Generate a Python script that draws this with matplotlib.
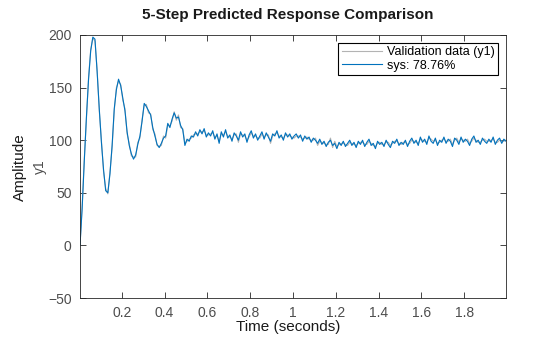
import numpy as np
import matplotlib
matplotlib.use("Agg")
import matplotlib.pyplot as plt

plt.rcParams['font.family'] = ['Liberation Sans', 'DejaVu Sans']

# sample times (Ts = 0.01 s, starting at 0.005 s)
n_samples = 200
t0, Ts = 0.005, 0.01

# sys: 5-step predicted response
sys_y = [
    0, 35, 80, 122, 158, 185, 198, 196, 165, 130,
    98, 72, 52, 50, 68, 95, 130, 148, 158, 152,
    140, 128, 108, 95, 87, 82, 86, 96, 104, 118,
    135, 132, 128, 124, 112, 104, 96, 93, 97, 102,
    104, 116, 112, 120, 126, 121, 122, 114, 110, 95,
    101, 99, 104, 103, 108, 104, 110, 106, 111, 103,
    107, 104, 109, 101, 106, 97, 108, 103, 110, 102,
    105, 99, 107, 104, 100, 108, 103, 106, 98, 105,
    109, 102, 106, 100, 104, 108, 101, 107, 103, 99,
    106, 104, 109, 102, 105, 100, 107, 103, 106, 101,
    104, 106, 102, 105, 99, 104, 101, 103, 98, 102,
    100, 97, 101, 96, 99, 94, 98, 100, 95, 97,
    92, 98, 95, 99, 94, 97, 100, 95, 98, 93,
    99, 96, 100, 94, 98, 101, 95, 97, 92, 99,
    96, 98, 94, 100, 96, 93, 99, 97, 101, 95,
    98, 96, 100, 94, 99, 102, 97, 100, 95, 103,
    98, 101, 96, 104, 99, 97, 102, 95, 100, 98,
    103, 97, 101, 99, 94, 102, 100, 96, 103, 98,
    101, 99, 95, 101, 104, 98, 100, 96, 102, 99,
    97, 101, 98, 103, 96, 100, 102, 97, 101, 99,
]

# validation data (y1)
val_y = [
    0, 37, 82, 120, 160, 186, 197, 194, 167, 128,
    100, 70, 54, 49, 70, 93, 128, 150, 156, 153,
    138, 130, 106, 97, 85, 84, 84, 98, 102, 120,
    133, 134, 126, 125, 110, 106, 95, 94, 95, 104,
    102, 114, 114, 118, 127, 119, 124, 112, 111, 97,
    99, 101, 102, 105, 106, 106, 108, 108, 109, 105,
    105, 106, 107, 103, 104, 99, 106, 105, 108, 104,
    103, 101, 105, 106, 98, 106, 105, 104, 100, 103,
    107, 104, 104, 102, 102, 106, 103, 105, 105, 97,
    104, 106, 107, 104, 103, 102, 105, 105, 104, 103,
    102, 104, 104, 103, 101, 102, 103, 101, 100, 100,
    102, 95, 99, 98, 97, 96, 96, 102, 93, 99,
    94, 96, 97, 97, 96, 95, 98, 97, 96, 95,
    97, 98, 98, 96, 96, 99, 97, 95, 94, 97,
    98, 96, 96, 98, 98, 95, 97, 99, 99, 97,
    96, 98, 98, 96, 97, 100, 99, 98, 97, 101,
    100, 99, 98, 102, 101, 99, 100, 97, 98, 100,
    101, 99, 99, 101, 96, 100, 102, 98, 101, 100,
    99, 101, 97, 99, 102, 100, 98, 98, 100, 101,
    99, 99, 100, 101, 98, 98, 100, 99, 99, 100,
]

x_ticks = [0.2, 0.4, 0.6, 0.8, 1.0, 1.2, 1.4, 1.6, 1.8]
x_ticklabels = ['0.2', '0.4', '0.6', '0.8', '1', '1.2', '1.4', '1.6', '1.8']
y_ticks = [-50, 0, 50, 100, 150, 200]

t = t0 + Ts * np.arange(n_samples)

fig = plt.figure(figsize=(5.6, 3.37), dpi=100)
ax = fig.add_axes([80/560, 1-298/337, (506-80)/560, (298-35)/337])

ax.plot(t, val_y, color='#b3b3b3', lw=0.8, label='Validation data (y1)')
ax.plot(t, sys_y, color='#0072BD', lw=0.8, label='sys: 78.76%')

ax.set_xlim(0.005, 1.995)
ax.set_ylim(-50, 200)
ax.set_xticks(x_ticks)
ax.set_xticklabels(x_ticklabels)
ax.set_yticks(y_ticks)

axc = '#262626'
for s in ax.spines.values():
    s.set_color(axc)
    s.set_linewidth(0.6)
ax.tick_params(direction='in', length=4, width=0.6, color=axc,
               top=True, right=True, labelsize=10, labelcolor='#4d4d4d', pad=6)

leg = ax.legend(loc='upper right', fontsize=9, frameon=True, fancybox=False,
                edgecolor='black', borderpad=0.3, labelspacing=0.1,
                handlelength=3.2, handletextpad=0.4, borderaxespad=0.6)
leg.get_frame().set_linewidth(0.8)
leg.get_frame().set_alpha(1)

fig.text(288/560, 1-15/337, '5-Step Predicted Response Comparison',
         ha='center', va='center', fontsize=11, fontweight='bold', color='#1a1a1a')
fig.text(288/560, 1-327/337, 'Time (seconds)', ha='center', va='center',
         fontsize=11, color='#1a1a1a')
fig.text(20/560, 1-167/337, 'Amplitude', ha='center', va='center',
         rotation=90, fontsize=11, color='#1a1a1a')
fig.text(40/560, 1-167/337, 'y1', ha='center', va='center',
         rotation=90, fontsize=10, color='#4d4d4d')

fig.savefig('out.png', dpi=100)
